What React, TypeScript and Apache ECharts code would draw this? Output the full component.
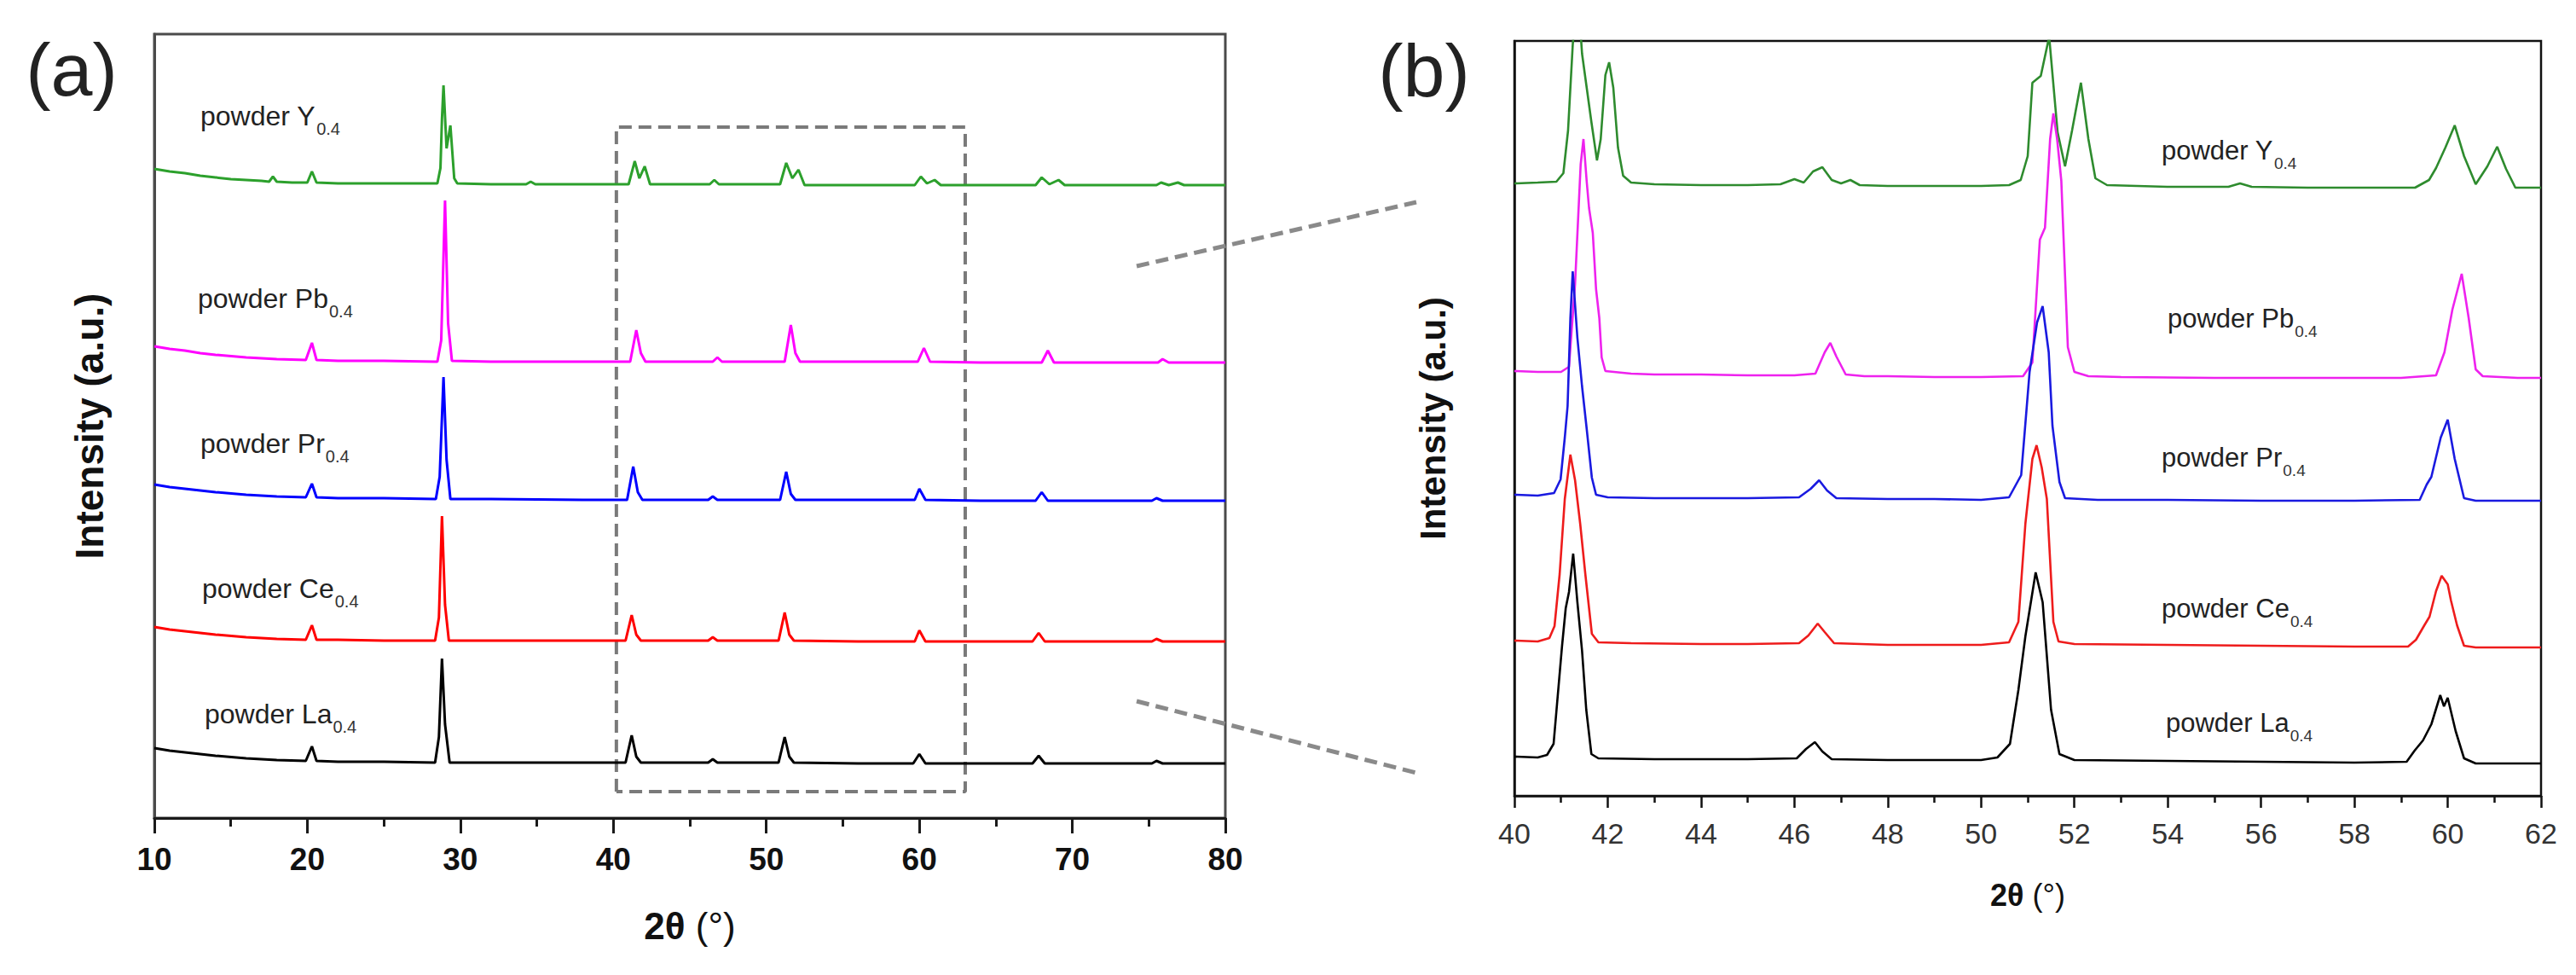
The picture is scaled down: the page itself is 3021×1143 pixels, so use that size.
import React, { useEffect, useRef } from "react";
import * as echarts from "echarts";

// ---------- data (panel a: 10–80°, intensity a.u.) ----------
const labelMain = ["powder Y", "powder Pb", "powder Pr", "powder Ce", "powder La"];
const labelSub = "0.4";

const aY: number[][] = [
  [10, 761], [11, 758], [12, 756], [13, 753], [14, 751], [15, 749], [16, 748], [17, 747], [17.5, 746], [17.75, 752], [18.0, 746],
  [19, 745], [20.0, 745], [20.3, 758], [20.6, 745], [22, 744], [25, 744], [28.5, 744], [28.7, 762], [28.8, 820], [28.9, 859],
  [29.1, 785], [29.35, 812], [29.6, 750], [29.8, 744], [32, 743], [34.3, 743], [34.6, 746], [34.9, 743], [38, 743], [41.0, 743],
  [41.4, 770], [41.7, 750], [42.05, 764], [42.4, 743], [44, 743], [46.3, 743], [46.6, 748], [46.9, 743], [50.9, 743], [51.3, 768],
  [51.7, 750], [52.1, 760], [52.5, 742], [56, 742], [59.7, 742], [60.1, 752], [60.5, 744], [61.0, 748], [61.4, 742], [64, 742],
  [67.6, 742], [68.0, 751], [68.5, 743], [69.1, 748], [69.5, 742], [72, 742], [75.5, 742], [75.8, 745], [76.3, 742], [76.9, 745],
  [77.3, 742], [80, 742],
];
const aPb: number[][] = [
  [10, 553], [11, 550], [12, 548], [13, 545], [14, 543], [16, 540], [18, 538], [19.9, 537], [20.3, 557], [20.6, 537], [22, 536],
  [25, 536], [28.5, 535], [28.75, 560], [29.0, 724], [29.2, 580], [29.45, 536], [32, 535], [38, 535], [41.1, 535], [41.5, 572],
  [41.8, 545], [42.1, 535], [44, 535], [46.5, 535], [46.8, 540], [47.1, 535], [51.2, 535], [51.6, 578], [51.9, 545], [52.2, 535],
  [56, 535], [59.9, 535], [60.3, 551], [60.7, 535], [64, 534], [68.0, 534], [68.4, 548], [68.8, 534], [72, 534], [75.6, 534],
  [75.9, 538], [76.3, 534], [80, 534],
];
const aPr: number[][] = [
  [10, 391], [11, 388], [12, 386], [13, 384], [14, 382], [16, 379], [18, 377], [19.9, 376], [20.3, 392], [20.6, 376], [22, 375],
  [25, 375], [28.4, 374], [28.65, 400], [28.9, 517], [29.1, 420], [29.35, 374], [32, 374], [38, 373], [40.9, 373], [41.3, 412],
  [41.6, 382], [41.9, 373], [44, 373], [46.2, 373], [46.5, 377], [46.8, 373], [50.9, 373], [51.3, 406], [51.6, 380], [51.9, 373],
  [56, 373], [59.7, 373], [60.0, 386], [60.4, 373], [64, 372], [67.6, 372], [68.0, 382], [68.4, 372], [72, 372], [75.2, 372],
  [75.5, 375], [75.9, 372], [80, 372],
];
const aCe: number[][] = [
  [10, 224], [11, 221], [12, 219], [13, 217], [14, 215], [16, 212], [18, 210], [19.9, 209], [20.3, 226], [20.6, 209], [22, 209],
  [25, 208], [28.35, 208], [28.6, 235], [28.8, 354], [29.0, 250], [29.25, 208], [32, 208], [38, 208], [40.8, 208], [41.2, 238],
  [41.5, 215], [41.8, 208], [44, 208], [46.2, 208], [46.5, 212], [46.8, 208], [50.8, 208], [51.2, 241], [51.5, 215], [51.8, 208],
  [56, 207], [59.7, 207], [60.0, 220], [60.4, 207], [64, 207], [67.4, 207], [67.8, 217], [68.2, 207], [72, 207], [75.2, 207],
  [75.5, 210], [75.9, 207], [80, 207],
];
const aLa: number[][] = [
  [10, 82], [11, 79], [12, 77], [13, 75], [14, 73], [16, 70], [18, 68], [19.9, 67], [20.3, 84], [20.6, 67], [22, 66], [25, 66],
  [28.35, 65], [28.6, 95], [28.8, 187], [29.0, 110], [29.3, 65], [32, 65], [38, 65], [40.8, 65], [41.2, 97], [41.5, 72],
  [41.8, 65], [44, 65], [46.2, 65], [46.5, 69], [46.8, 65], [50.8, 65], [51.2, 95], [51.5, 72], [51.8, 65], [56, 64],
  [59.6, 64], [60.0, 75], [60.4, 64], [64, 64], [67.4, 64], [67.8, 73], [68.2, 64], [72, 64], [75.2, 64], [75.5, 67],
  [75.9, 64], [80, 64],
];
// dashed zoom window in panel a (degrees, a.u.)
const zoomBox: number[][] = [[40.2, 31], [40.2, 810], [63, 810], [63, 31], [40.2, 31]];

// ---------- data (panel b: 40–62°) ----------
const bY: number[][] = [
  [40, 718], [40.5, 719], [40.9, 720], [41.05, 730], [41.15, 780], [41.25, 880], [41.35, 950], [41.45, 870], [41.55, 830],
  [41.65, 790], [41.77, 745], [41.85, 770], [41.95, 845], [42.03, 860], [42.12, 830], [42.22, 760], [42.33, 727], [42.5, 719],
  [43, 717], [44, 716], [45, 716], [45.7, 717], [46.0, 723], [46.2, 719], [46.4, 732], [46.6, 737], [46.8, 722], [47.0, 718],
  [47.2, 722], [47.4, 716], [48, 715], [49, 715], [50, 715], [50.6, 716], [50.85, 722], [51.0, 750], [51.1, 836], [51.28, 844],
  [51.46, 890], [51.64, 778], [51.8, 738], [51.95, 780], [52.14, 836], [52.3, 770], [52.45, 724], [52.7, 716], [54, 714],
  [55.3, 714], [55.55, 718], [55.8, 714], [57, 713], [59.3, 713], [59.6, 722], [59.75, 736], [59.95, 760], [60.15, 786],
  [60.35, 750], [60.6, 717], [60.85, 738], [61.06, 761], [61.25, 735], [61.45, 713], [62, 713],
];
const bPb: number[][] = [
  [40, 498], [40.5, 497], [41.0, 497], [41.17, 503], [41.3, 600], [41.42, 740], [41.48, 770], [41.55, 720], [41.6, 689],
  [41.68, 660], [41.75, 594], [41.82, 560], [41.87, 514], [41.95, 498], [42.5, 495], [43, 494], [44, 494], [45, 493], [46, 493],
  [46.45, 495], [46.65, 520], [46.77, 531], [46.9, 515], [47.1, 494], [47.5, 492], [48, 492], [49, 491], [50, 491], [50.9, 492],
  [51.1, 508], [51.26, 652], [51.37, 666], [51.48, 770], [51.55, 800], [51.63, 770], [51.72, 721], [51.86, 526], [52.0, 497],
  [52.3, 492], [53, 491], [55, 490], [57, 490], [59, 490], [59.75, 493], [59.93, 520], [60.1, 570], [60.3, 612], [60.45, 560],
  [60.6, 500], [60.75, 492], [61.5, 490], [62, 490],
];
const bPr: number[][] = [
  [40, 353], [40.5, 352], [40.85, 355], [40.99, 371], [41.08, 420], [41.14, 457], [41.2, 560], [41.25, 615], [41.35, 537],
  [41.45, 480], [41.55, 430], [41.66, 373], [41.75, 353], [42, 350], [43, 349], [44, 349], [45, 349], [46.1, 350], [46.35, 360],
  [46.53, 370], [46.7, 358], [46.9, 349], [48, 348], [49, 348], [50, 347], [50.6, 350], [50.86, 376], [51.04, 497], [51.2, 555],
  [51.32, 574], [51.45, 520], [51.53, 434], [51.68, 368], [51.8, 349], [52.5, 347], [54, 347], [56, 346], [58, 346], [59.4, 347],
  [59.55, 365], [59.65, 374], [59.85, 420], [60.0, 441], [60.15, 395], [60.35, 349], [60.6, 346], [62, 346],
];
const bCe: number[][] = [
  [40, 182], [40.5, 181], [40.75, 185], [40.86, 199], [40.97, 260], [41.08, 348], [41.2, 400], [41.3, 370], [41.41, 319],
  [41.52, 260], [41.66, 190], [41.8, 180], [42.5, 179], [44, 178], [45, 178], [46.1, 179], [46.3, 188], [46.5, 202], [46.65, 192],
  [46.85, 179], [48, 177], [49, 177], [50, 177], [50.6, 180], [50.8, 204], [50.95, 319], [51.1, 395], [51.19, 411], [51.3, 385],
  [51.41, 348], [51.55, 204], [51.66, 181], [52, 178], [54, 177], [56, 176], [58, 175], [59.15, 175], [59.32, 183], [59.5, 200],
  [59.61, 210], [59.75, 240], [59.87, 258], [60.0, 248], [60.07, 229], [60.2, 200], [60.35, 176], [60.6, 174], [62, 174],
];
const bLa: number[][] = [
  [40, 46], [40.5, 45], [40.7, 48], [40.84, 61], [41.02, 175], [41.1, 220], [41.17, 239], [41.26, 284], [41.35, 227],
  [41.45, 170], [41.54, 101], [41.65, 49], [41.8, 44], [43, 43], [44, 43], [45, 43], [46.05, 44], [46.25, 55], [46.44, 63],
  [46.6, 52], [46.8, 43], [48, 42], [49, 42], [50, 42], [50.35, 45], [50.62, 61], [50.8, 124], [50.95, 187], [51.17, 262],
  [51.32, 227], [51.5, 101], [51.68, 49], [52, 42], [54, 41], [56, 40], [58, 39], [59.12, 40], [59.29, 53], [59.47, 65],
  [59.65, 84], [59.84, 118], [59.92, 105], [60.0, 115], [60.17, 76], [60.35, 44], [60.6, 38], [62, 38],
];

// ---------- styles / layout ----------
const FONT = "'Liberation Sans', Arial, Helvetica, sans-serif";
const colorsA = ["#2ca02c", "#ff00ff", "#0000ff", "#ff0000", "#000000"];
const colorsB = ["#2e8b2e", "#ee22ee", "#1a1ae0", "#ee1c1c", "#000000"];
const labelPosA = [[235, 136], [232, 350], [235, 520], [237, 690], [240, 837]];
const labelPosB = [[2535, 176], [2542, 373], [2535, 536], [2535, 713], [2540, 847]];

function measure(text: string, size: number): number {
  const c = document.createElement("canvas").getContext("2d");
  if (!c) return text.length * size * 0.5;
  c.font = `${size}px 'Liberation Sans', Arial, sans-serif`;
  return c.measureText(text).width;
}

function labelGraphics(pos: number[][], size: number, subSize: number) {
  const out: any[] = [];
  labelMain.forEach((t, i) => {
    const [x, y] = pos[i];
    const w = measure(t, size);
    out.push({
      type: "text",
      x,
      y,
      silent: true,
      style: { text: t, fontSize: size, fontFamily: FONT, fill: "#222", align: "left", verticalAlign: "middle" },
    });
    out.push({
      type: "text",
      x: x + w + 1,
      y: y + 15,
      silent: true,
      style: { text: labelSub, fontSize: subSize, fontFamily: FONT, fill: "#333", align: "left", verticalAlign: "middle" },
    });
  });
  return out;
}

export default function App() {
  const ref = useRef<HTMLDivElement>(null);
  useEffect(() => {
    document.body.style.margin = "0";
    if (!ref.current) return;
    const chart = echarts.init(ref.current, undefined, { renderer: "svg" });
    const dataA = [aY, aPb, aPr, aCe, aLa];
    const dataB = [bY, bPb, bPr, bCe, bLa];
    const series: any[] = [];
    dataA.forEach((d, i) =>
      series.push({
        type: "line", xAxisIndex: 0, yAxisIndex: 0, data: d, symbol: "none", silent: true, clip: true,
        lineStyle: { color: colorsA[i], width: 3 }, z: 3,
      })
    );
    dataB.forEach((d, i) =>
      series.push({
        type: "line", xAxisIndex: 1, yAxisIndex: 1, data: d, symbol: "none", silent: true, clip: true,
        lineStyle: { color: colorsB[i], width: 2.6 }, z: 3,
      })
    );
    series.push({
      type: "line", xAxisIndex: 0, yAxisIndex: 0, data: zoomBox, symbol: "none", silent: true,
      lineStyle: { color: "#7a7a7a", width: 4, type: [15, 8] }, z: 2,
    });

    const xName = (size: number) => ({
      rich: {
        b: { fontSize: size, fontWeight: "bold", fontFamily: FONT, color: "#111" },
        r: { fontSize: size, fontFamily: FONT, color: "#111" },
      },
    });

    chart.setOption({
      animation: false,
      backgroundColor: "#ffffff",
      grid: [
        { left: 181, top: 40, width: 1256, height: 919, show: true, borderColor: "#4a4a4a", borderWidth: 3 },
        { left: 1776, top: 48, width: 1204, height: 885, show: true, borderColor: "#111", borderWidth: 2.5 },
      ],
      xAxis: [
        {
          gridIndex: 0, type: "value", min: 10, max: 80, interval: 10,
          axisLine: { show: true, onZero: false, lineStyle: { color: "#1a1a1a", width: 3 } },
          axisTick: { show: true, inside: false, length: 18, lineStyle: { color: "#1a1a1a", width: 3 } },
          minorTick: { show: true, splitNumber: 2, length: 10, lineStyle: { color: "#1a1a1a", width: 3 } },
          splitLine: { show: false }, minorSplitLine: { show: false },
          axisLabel: { margin: 30, fontSize: 37, fontWeight: "bold", color: "#111", fontFamily: FONT, showMinLabel: true, showMaxLabel: true },
          name: "{b|2θ }{r|(°)}", nameLocation: "middle", nameGap: 104, nameTextStyle: xName(44),
        },
        {
          gridIndex: 1, type: "value", min: 40, max: 62, interval: 2,
          axisLine: { show: true, onZero: false, lineStyle: { color: "#111", width: 2.5 } },
          axisTick: { show: true, inside: false, length: 14, lineStyle: { color: "#111", width: 2.5 } },
          minorTick: { show: true, splitNumber: 2, length: 8, lineStyle: { color: "#111", width: 2.5 } },
          splitLine: { show: false }, minorSplitLine: { show: false },
          axisLabel: { margin: 27, fontSize: 34, color: "#333", fontFamily: FONT, showMinLabel: true, showMaxLabel: true },
          name: "{b|2θ }{r|(°)}", nameLocation: "middle", nameGap: 98, nameTextStyle: xName(36),
        },
      ],
      yAxis: [
        {
          gridIndex: 0, type: "value", min: 0, max: 919,
          axisLine: { show: true, lineStyle: { color: "#4a4a4a", width: 3 } },
          axisTick: { show: false }, axisLabel: { show: false }, splitLine: { show: false },
          name: "Intensity (a.u.)", nameLocation: "middle", nameRotate: 90, nameGap: 53,
          nameTextStyle: { fontSize: 46, fontWeight: "bold", fontFamily: FONT, color: "#111" },
        },
        {
          gridIndex: 1, type: "value", min: 0, max: 885,
          axisLine: { show: true, lineStyle: { color: "#111", width: 2.5 } },
          axisTick: { show: false }, axisLabel: { show: false }, splitLine: { show: false },
          name: "Intensity (a.u.)", nameLocation: "middle", nameRotate: 90, nameGap: 75,
          nameTextStyle: { fontSize: 42, fontWeight: "bold", fontFamily: FONT, color: "#111" },
        },
      ],
      series,
      graphic: [
        { type: "text", x: 84, y: 81, silent: true, style: { text: "(a)", fontSize: 88, fontFamily: FONT, fill: "#222", align: "center", verticalAlign: "middle" } },
        { type: "text", x: 1670, y: 82, silent: true, style: { text: "(b)", fontSize: 88, fontFamily: FONT, fill: "#222", align: "center", verticalAlign: "middle" } },
        { type: "line", silent: true, shape: { x1: 1333, y1: 312, x2: 1661, y2: 237 }, style: { stroke: "#8a8a8a", lineWidth: 5, lineDash: [15, 8] } },
        { type: "line", silent: true, shape: { x1: 1333, y1: 822, x2: 1661, y2: 906 }, style: { stroke: "#8a8a8a", lineWidth: 5, lineDash: [15, 8] } },
        ...labelGraphics(labelPosA, 32, 20),
        ...labelGraphics(labelPosB, 31, 19),
      ],
    });
    return () => chart.dispose();
  }, []);
  return <div ref={ref} style={{ width: 3021, height: 1143 }} />;
}
